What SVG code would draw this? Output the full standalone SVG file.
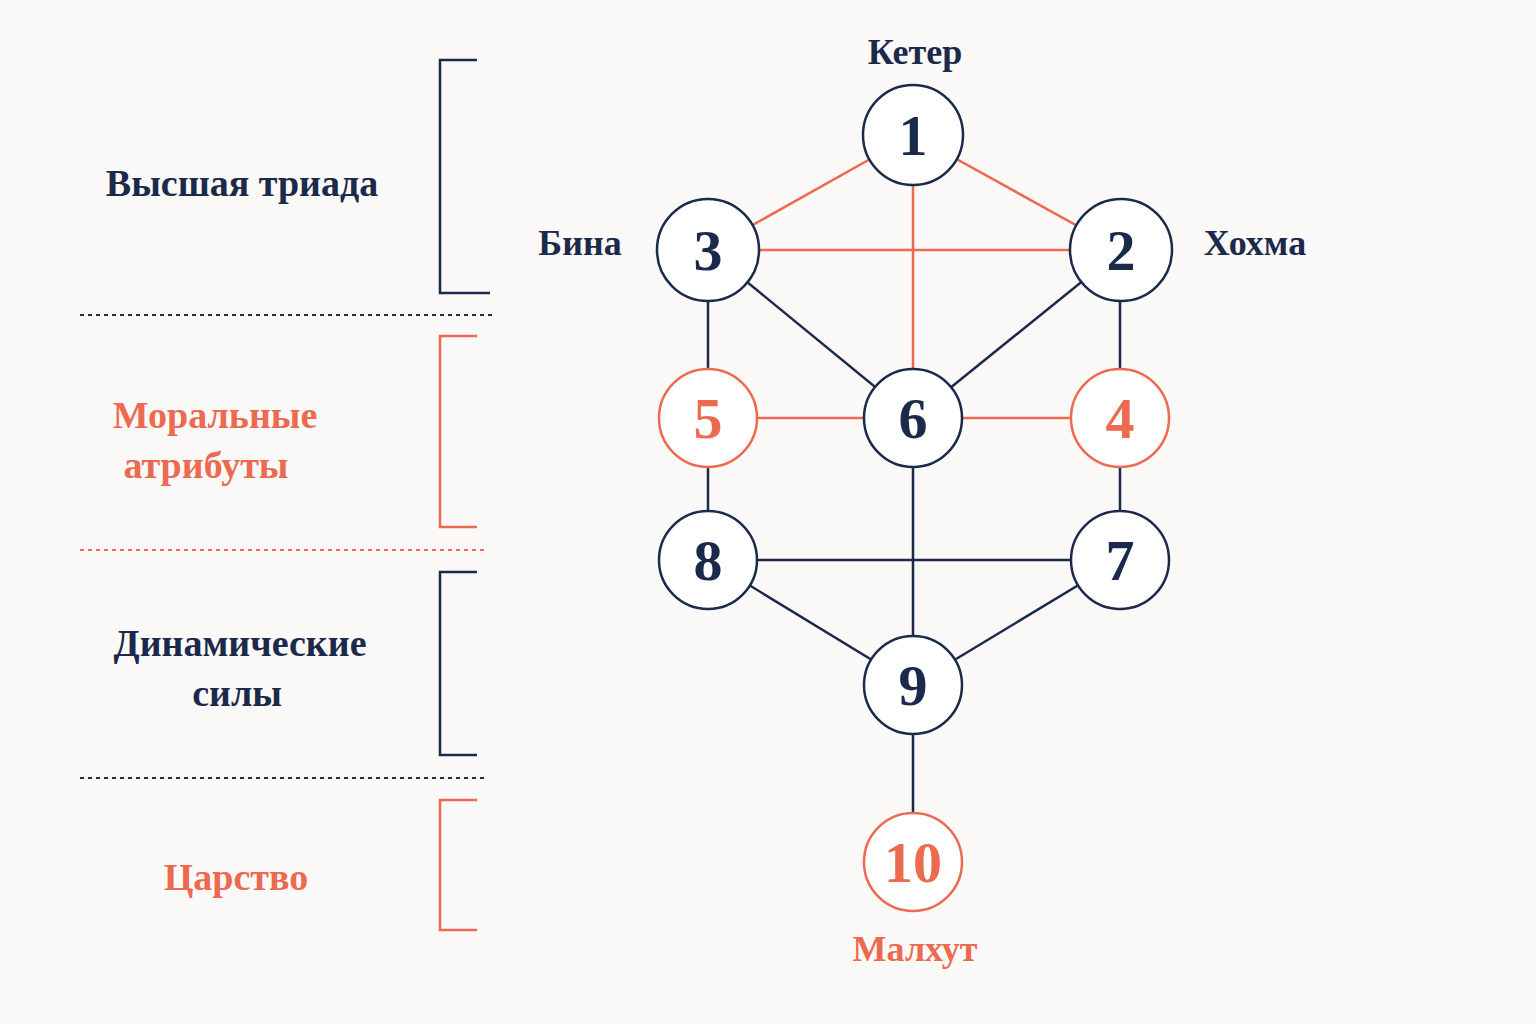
<svg xmlns="http://www.w3.org/2000/svg" width="1536" height="1024" viewBox="0 0 1536 1024">
<style>
.n{fill:#1b2a4a}.c{fill:#ec6a50}
text{font-family:"Liberation Serif","DejaVu Serif",serif;font-weight:bold;text-anchor:middle}
.lbl{font-size:38px}.nm{font-size:36px}.num{font-size:58px}
.ln{stroke:#1b2a4a;stroke-width:2.5;fill:none}.lc{stroke:#ec6a50;stroke-width:2.5;fill:none}
.cn{fill:#fff;stroke:#1b2a4a;stroke-width:2.5}.cc{fill:#fff;stroke:#ec6a50;stroke-width:2.5}
.dn{stroke:#1b2a4a;stroke-width:2;stroke-dasharray:4 4}.dc{stroke:#ec6a50;stroke-width:2;stroke-dasharray:4 4}
</style>
<rect width="1536" height="1024" fill="#fbf9f7"/>
<g id="brackets">
<path class="ln" d="M477,60H440V293H490"/>
<path class="lc" d="M477,336H440V527H477"/>
<path class="ln" d="M477,572H440V755H477"/>
<path class="lc" d="M477,800H440V930H477"/>
<line class="dn" x1="80" y1="315" x2="492" y2="315"/>
<line class="dc" x1="80" y1="550" x2="484" y2="550"/>
<line class="dn" x1="80" y1="778" x2="484" y2="778"/>
</g>
<g id="labels">
<text class="lbl n" x="242" y="196">Высшая триада</text>
<text class="lbl c" x="215" y="428">Моральные</text>
<text class="lbl c" x="206" y="478">атрибуты</text>
<text class="lbl n" x="240" y="656">Динамические</text>
<text class="lbl n" x="237" y="706">силы</text>
<text class="lbl c" x="236" y="890">Царство</text>
<text class="nm n" x="915" y="64">Кетер</text>
<text class="nm n" x="580" y="255">Бина</text>
<text class="nm n" x="1255" y="255">Хохма</text>
<text class="nm c" x="915" y="961">Малхут</text>
</g>
<g id="connectors">
<line class="lc" x1="913" y1="135" x2="708" y2="250"/>
<line class="lc" x1="913" y1="135" x2="1121" y2="250"/>
<line class="lc" x1="708" y1="250" x2="1121" y2="250"/>
<line class="lc" x1="913" y1="135" x2="913" y2="418"/>
<line class="lc" x1="708" y1="418" x2="1120" y2="418"/>
<line class="ln" x1="708" y1="250" x2="913" y2="418"/>
<line class="ln" x1="1121" y1="250" x2="913" y2="418"/>
<line class="ln" x1="708" y1="250" x2="708" y2="560"/>
<line class="ln" x1="1120" y1="250" x2="1120" y2="560"/>
<line class="ln" x1="708" y1="560" x2="1120" y2="560"/>
<line class="ln" x1="913" y1="418" x2="913" y2="862"/>
<line class="ln" x1="708" y1="560" x2="913" y2="685"/>
<line class="ln" x1="1120" y1="560" x2="913" y2="685"/>
</g>
<g id="n1"><circle class="cn" cx="913" cy="135" r="50"/><text class="num n" x="913" y="155">1</text></g>
<g id="n3"><circle class="cn" cx="708" cy="250" r="51"/><text class="num n" x="708" y="270">3</text></g>
<g id="n2"><circle class="cn" cx="1121" cy="250" r="51"/><text class="num n" x="1121" y="270">2</text></g>
<g id="n5"><circle class="cc" cx="708" cy="418" r="49"/><text class="num c" x="708" y="438">5</text></g>
<g id="n6"><circle class="cn" cx="913" cy="418" r="49"/><text class="num n" x="913" y="438">6</text></g>
<g id="n4"><circle class="cc" cx="1120" cy="418" r="49"/><text class="num c" x="1120" y="438">4</text></g>
<g id="n8"><circle class="cn" cx="708" cy="560" r="49"/><text class="num n" x="708" y="580">8</text></g>
<g id="n7"><circle class="cn" cx="1120" cy="560" r="49"/><text class="num n" x="1120" y="580">7</text></g>
<g id="n9"><circle class="cn" cx="913" cy="685" r="49"/><text class="num n" x="913" y="705">9</text></g>
<g id="n10"><circle class="cc" cx="913" cy="862" r="49"/><text class="num c" x="913" y="882">10</text></g>
</svg>
